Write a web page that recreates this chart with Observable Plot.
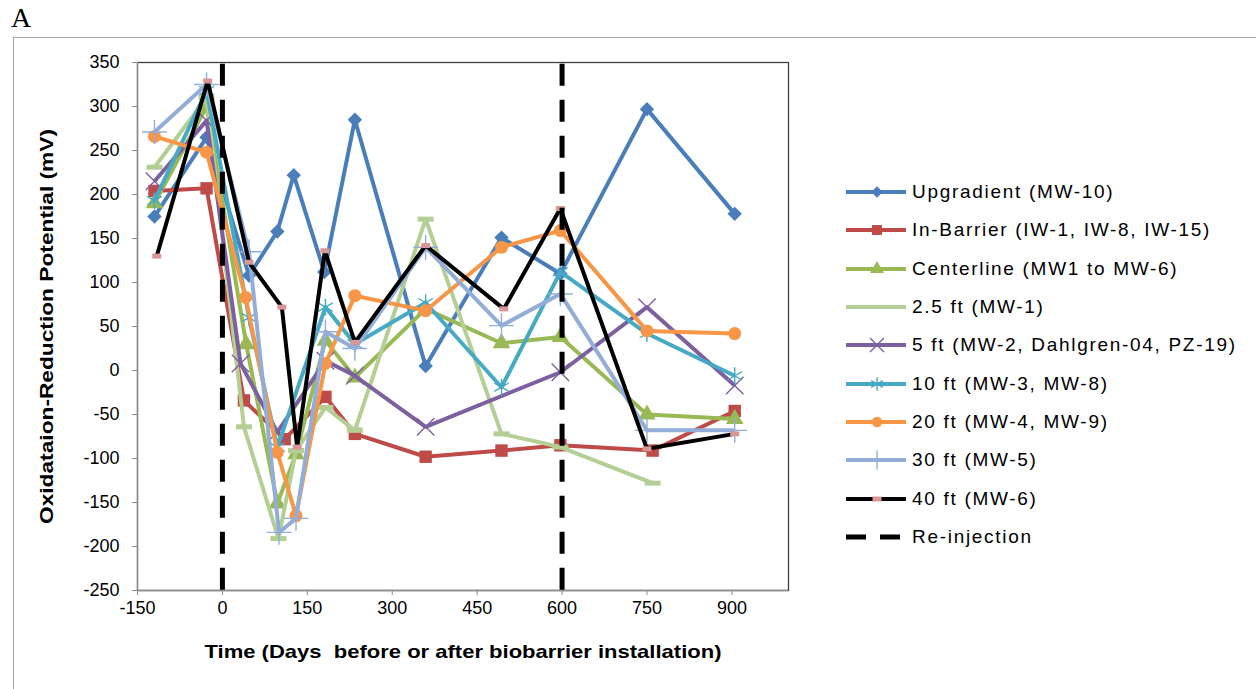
<!DOCTYPE html>
<html>
<head>
<meta charset="utf-8">
<script src="https://cdn.jsdelivr.net/npm/d3@7"></script>
<script src="https://cdn.jsdelivr.net/npm/@observablehq/plot@0.6"></script>
<style>
  html, body { margin: 0; padding: 0; background: #fff; }
  #wrap { position: relative; width: 1256px; height: 689px; overflow: hidden; font-family: "Liberation Sans", Arial, sans-serif; }
  #letter { position: absolute; left: 11px; top: 2px; font-family: "Liberation Serif", "Times New Roman", serif; font-size: 28px; color: #000; }
  #frame { position: absolute; left: 13px; top: 37px; width: 1300px; height: 700px; border-left: 1px solid #a6a6a6; border-top: 1px solid #a6a6a6; }
  #chart { position: absolute; left: 0; top: 0; }
  #legend { position: absolute; left: 846px; top: 173px; }
  .row { position: relative; height: 38.3px; display: flex; align-items: center; }
  .row svg { flex: none; }
  .row span { margin-left: 5px; font-size: 19px; letter-spacing: 1.7px; color: #000; white-space: nowrap; }
  #chart svg [aria-label="y-axis label"] text, #chart svg [aria-label="x-axis label"] text { font-weight: bold; font-size: 19px; }
</style>
</head>
<body>
<div id="wrap">
  <div id="letter">A</div>
  <div id="frame"></div>
  <div id="chart"></div>
  <div id="legend"></div>
</div>
<script>
// ---------- data ----------
const seriesNames = [
  "Upgradient (MW-10)",
  "In-Barrier (IW-1, IW-8, IW-15)",
  "Centerline (MW1 to MW-6)",
  "2.5 ft (MW-1)",
  "5 ft (MW-2, Dahlgren-04, PZ-19)",
  "10 ft (MW-3, MW-8)",
  "20 ft (MW-4, MW-9)",
  "30 ft (MW-5)",
  "40 ft (MW-6)"
];
const seriesColors = ["#4a7ebb", "#be4b48", "#98b954", "#b3cf94", "#7d60a0", "#46aac5", "#f79646", "#92aed8", "#000000"];

const upgradientDays = [-120, -28, 47, 97, 126, 180, 234, 359, 493, 597, 750, 905];
const upgradientMv   = [175, 265, 108, 158, 222, 112, 285, 5, 151, 110, 297, 178];

const inBarrierDays = [-120, -28, 38, 110, 182, 234, 359, 493, 597, 760, 905];
const inBarrierMv   = [204, 207, -34, -78, -30, -72, -98, -91, -85, -91, -46];

const centerlineDays = [-120, -28, 42, 97, 130, 182, 234, 359, 493, 597, 750, 905];
const centerlineMv   = [190, 300, 30, -151, -95, 34, -8, 70, 31, 38, -50, -55];

const ft25Days = [-120, -28, 38, 99, 130, 182, 234, 359, 493, 597, 760];
const ft25Mv   = [231, 310, -64, -191, -91, -42, -68, 172, -72, -87, -128];

const ft5Days = [-120, -28, 32, 97, 182, 234, 359, 597, 750, 905];
const ft5Mv   = [215, 284, 8, -70, 11, -6, -64, -2, 72, -17];

const ft10Days = [-120, -28, 47, 97, 182, 234, 359, 493, 597, 750, 905];
const ft10Mv   = [193, 318, 60, -87, 72, 30, 77, -19, 112, 42, -6];

const ft20Days = [-120, -28, 41, 97, 130, 182, 234, 359, 493, 597, 750, 905];
const ft20Mv   = [266, 248, 83, -93, -165, 8, 85, 68, 140, 159, 45, 42];

const ft30Days = [-120, -28, 47, 100, 130, 182, 234, 359, 493, 597, 750, 905];
const ft30Mv   = [271, 325, 135, -184, -168, 44, 25, 140, 51, 87, -68, -68];

const ft40Days = [-116, -26, 47, 105, 132, 181, 234, 359, 497, 597, 750, 905];
const ft40Mv   = [130, 329, 123, 72, -87, 136, 32, 142, 70, 184, -89, -72];

const reinjectionDays = [0, 600];
const xTicks = [-150, 0, 150, 300, 450, 600, 750, 900];
const yTicks = [-250, -200, -150, -100, -50, 0, 50, 100, 150, 200, 250, 300, 350];
const xLabel = "Time (Days  before or after biobarrier installation)";
const yLabel = "Oxidataion-Reduction Potential (mV)";
const reinjectionLabel = "Re-injection";

// ---------- build ----------
const dayArrays = [upgradientDays, inBarrierDays, centerlineDays, ft25Days, ft5Days, ft10Days, ft20Days, ft30Days, ft40Days];
const mvArrays  = [upgradientMv, inBarrierMv, centerlineMv, ft25Mv, ft5Mv, ft10Mv, ft20Mv, ft30Mv, ft40Mv];

const dashSymbol = { draw(ctx) { ctx.rect(-8, -2.5, 16, 5); } };
const pinkRect = { draw(ctx) { ctx.rect(-4.5, -2.5, 9, 5); } };

// marker spec per series: [symbol, r, filled, markerColor]
const markerSpecs = [
  ["diamond2", 6.5, true, null],
  ["square", 7, true, null],
  ["triangle", 6.5, true, null],
  [dashSymbol, 5, true, null],
  ["times", 8, false, null],
  ["asterisk", 8, false, null],
  ["circle", 6.5, true, null],
  ["plus", 8, false, null],
  [pinkRect, 5, true, "#d99694"]
];

const marks = [];
seriesNames.forEach((name, k) => {
  const rows = dayArrays[k].map((d, i) => ({ series: name, day: d, mv: mvArrays[k][i] }));
  marks.push(Plot.line(rows, { x: "day", y: "mv", stroke: seriesColors[k], strokeWidth: 4, strokeLinejoin: "round", strokeLinecap: "butt" }));
  const [sym, r, filled, mc] = markerSpecs[k];
  const c = mc || seriesColors[k];
  if (filled) {
    marks.push(Plot.dot(rows, { x: "day", y: "mv", symbol: () => sym, r, fill: c, stroke: "none" }));
  } else {
    marks.push(Plot.dot(rows, { x: "day", y: "mv", symbol: () => sym, r, stroke: c, strokeWidth: 1.4, fill: "none" }));
  }
});

const fmt = (d) => String(d);
const plot = Plot.plot({
  width: 1256,
  height: 689,
  marginTop: 62,
  marginBottom: 99,
  marginLeft: 137,
  marginRight: 468,
  style: { fontFamily: "'Liberation Sans', Arial, sans-serif", background: "transparent", color: "#000" },
  x: { domain: [-150, 1000] },
  y: { domain: [-250, 350] },
  symbol: { type: "identity" },
  marks: [
    Plot.frame({ stroke: "#404040", strokeWidth: 1.3 }),
    Plot.ruleX([-150], { stroke: "#8c8c8c", strokeWidth: 1.3 }),
    Plot.ruleY([-250], { stroke: "#8c8c8c", strokeWidth: 1.3 }),
    Plot.axisY({ ticks: yTicks, tickFormat: fmt, tickSize: 5, tickPadding: 13, fontSize: 18, stroke: "#8c8c8c", label: yLabel, labelAnchor: "center", labelArrow: "none", labelOffset: 98 }),
    Plot.axisX({ ticks: xTicks, tickFormat: fmt, tickSize: 5, tickPadding: 6, fontSize: 18, stroke: "#8c8c8c", label: xLabel, labelAnchor: "center", labelArrow: "none", labelOffset: 67 }),
    ...marks,
    Plot.ruleX(reinjectionDays, { stroke: "#000", strokeWidth: 5, strokeDasharray: "22,14", y1: 348, y2: -250 })
  ]
});
document.getElementById("chart").appendChild(plot);

// stretch axis titles to the reference's lengths
const xl = plot.querySelector('[aria-label="x-axis label"] text');
if (xl) { xl.setAttribute("textLength", 517); xl.setAttribute("lengthAdjust", "spacingAndGlyphs"); }
const yl = plot.querySelector('[aria-label="y-axis label"] text');
if (yl) { yl.setAttribute("textLength", 395); yl.setAttribute("lengthAdjust", "spacingAndGlyphs"); }

// ---------- legend ----------
const legend = document.getElementById("legend");
const ns = "http://www.w3.org/2000/svg";
function legendRow(color, markerFn, text, dashed) {
  const row = document.createElement("div");
  row.className = "row";
  const svg = document.createElementNS(ns, "svg");
  svg.setAttribute("width", 61); svg.setAttribute("height", 20);
  const ln = document.createElementNS(ns, "line");
  ln.setAttribute("x1", 0); ln.setAttribute("x2", 60); ln.setAttribute("y1", 10); ln.setAttribute("y2", 10);
  ln.setAttribute("stroke", color); ln.setAttribute("stroke-width", dashed ? 5 : 4);
  if (dashed) ln.setAttribute("stroke-dasharray", "20,14");
  svg.appendChild(ln);
  if (markerFn) markerFn(svg);
  row.appendChild(svg);
  const sp = document.createElement("span"); sp.textContent = text;
  row.appendChild(sp);
  legend.appendChild(row);
}
const symbolTypes = { diamond2: d3.symbolDiamond2, square: d3.symbolSquare, triangle: d3.symbolTriangle, times: d3.symbolTimes, asterisk: d3.symbolAsterisk, circle: d3.symbolCircle, plus: d3.symbolPlus };
function pathMarker(sym, r, fill, stroke) {
  return (svg) => {
    const p = document.createElementNS(ns, "path");
    const symObj = typeof sym === "string" ? symbolTypes[sym] : sym;
    p.setAttribute("d", d3.symbol(symObj, r * r * Math.PI)());
    p.setAttribute("transform", "translate(31,10)");
    p.setAttribute("fill", fill || "none");
    if (stroke) { p.setAttribute("stroke", stroke); p.setAttribute("stroke-width", 1.4); }
    svg.appendChild(p);
  };
}
seriesNames.forEach((name, k) => {
  const [sym, r, filled, mc] = markerSpecs[k];
  const c = mc || seriesColors[k];
  const small = k === 3 ? null : pathMarker(sym, r * 0.8, filled ? c : null, filled ? null : c);
  legendRow(seriesColors[k], small, name, false);
});
legendRow("#000", null, reinjectionLabel, true);
</script>
</body>
</html>
